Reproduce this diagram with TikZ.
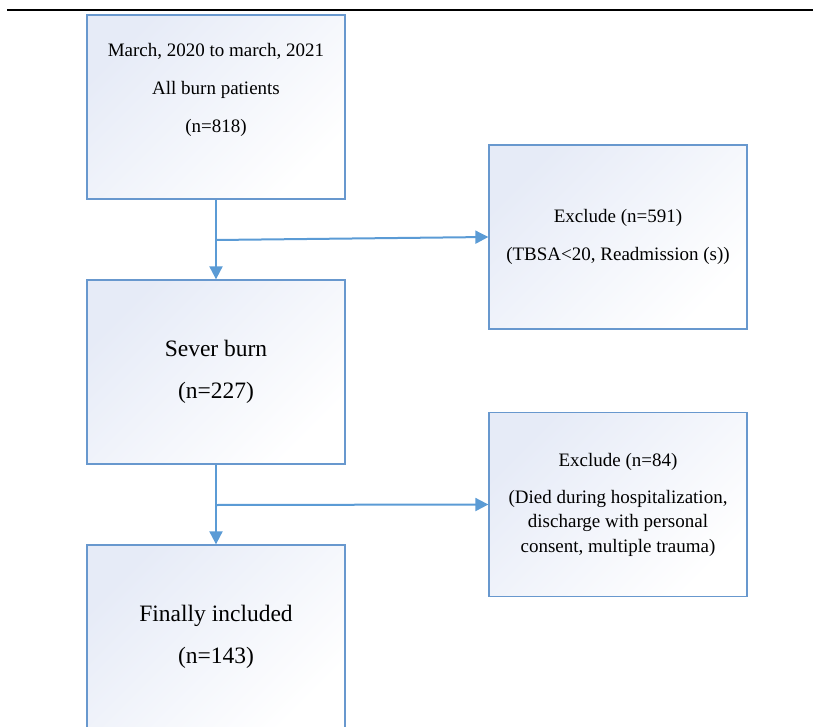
\documentclass[tikz,border=0pt]{standalone}
\usepackage{fontspec}
\setmainfont{Liberation Serif}
\usetikzlibrary{arrows.meta}

\definecolor{boxline}{RGB}{104,152,206}
\definecolor{boxfill}{RGB}{230,235,247}
\definecolor{flowline}{RGB}{91,155,213}

\begin{document}
\begin{tikzpicture}[x=1pt,y=-1pt,
box/.style={draw=boxline,line width=1.3pt,top color=boxfill,bottom color=white,shading angle=45,minimum width=258pt,minimum height=184pt,inner sep=0pt,align=center},
smalltxt/.style={font=\fontsize{19}{38}\selectfont},
bigtxt/.style={font=\fontsize{23.5}{42}\selectfont},
arrow/.style={-{Triangle[length=13pt,width=13pt]},line width=2pt,draw=flowline}]

\useasboundingbox (0,0) rectangle (813,727);
\clip (0,0) rectangle (813,727);

\draw[line width=2.5pt] (7,10) -- (813,10);

\node[box,smalltxt] (all) at (216,107) {March, 2020 to march, 2021\\All burn patients\\(n=818)\\~};

\node[box,bigtxt] (severe) at (216,372) {Sever burn\\(n=227)};

\node[box,bigtxt] (final) at (216,637) {Finally included\\(n=143)};

\node[box,smalltxt] (excl1) at (618,237) {Exclude (n=591)\\(TBSA<20, Readmission (s))};

\node[box,font=\fontsize{19}{24.5}\selectfont] (excl2) at (618,504.5) {Exclude (n=84)\\[12.5pt](Died during hospitalization,\\discharge with personal\\consent, multiple trauma)};

\coordinate (split1) at (216,240);
\coordinate (split2) at (216,505);

\draw[arrow] (all) -- (severe);
\draw[arrow] (split1) -- (excl1.west);

\draw[arrow] (severe) -- (final);
\draw[arrow] (split2) -- (excl2.west);

\end{tikzpicture}
\end{document}
